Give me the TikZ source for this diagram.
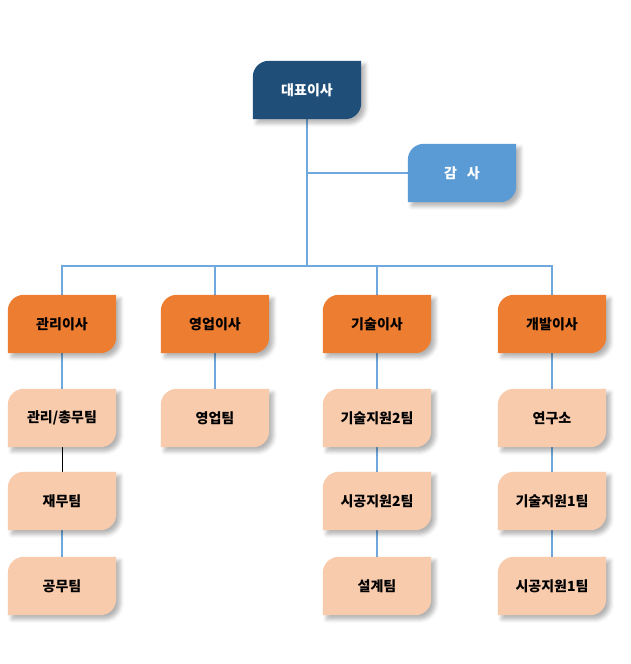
\documentclass[tikz,border=0pt]{standalone}
\usepackage{fontspec}
\setmainfont{Noto Sans CJK KR}
\usetikzlibrary{backgrounds,shadows.blur}

\definecolor{ceoblue}{HTML}{1F4E79}
\definecolor{auditblue}{HTML}{5B9BD5}
\definecolor{director}{HTML}{ED7D31}
\definecolor{team}{HTML}{F8CBAD}
\definecolor{lineblue}{HTML}{6FA8DC}

\begin{document}
\begin{tikzpicture}[x=1pt, y=1pt, node distance={85pt},
    main/.style = {minimum width=108pt, minimum height=58pt, inner sep=0pt, font=\fontsize{14}{16}\selectfont\bfseries},
    head/.style = {main, text=white},
    link/.style = {draw=lineblue, line width=1.2pt},
    tab/.style = {blur shadow={shadow xshift=4pt, shadow yshift=-4pt, shadow blur radius=4pt, shadow opacity=30}}]
    \useasboundingbox (0,0) rectangle (631,-664);

    \node[head] (1) at (307,-90) {대표이사};
    \node[head] (2) at (462,-173) {감\hspace{0.7em}사};
    \node[main] (3) at (62,-324) {관리이사};
    \node[main] (4) at (215,-324) {영업이사};
    \node[main] (5) at (377,-324) {기술이사};
    \node[main] (6) at (552,-324) {개발이사};
    \node[main] (7) [below of=3, yshift=-9pt] {관리/총무팀};
    \node[main] (8) [below of=7, yshift=2pt] {재무팀};
    \node[main] (9) [below of=8] {공무팀};
    \node[main] (10) [below of=4, yshift=-9pt] {영업팀};
    \node[main] (11) [below of=5, yshift=-9pt] {기술지원2팀};
    \node[main] (12) [below of=11, yshift=2pt] {시공지원2팀};
    \node[main] (13) [below of=12] {설계팀};
    \node[main] (14) [below of=6, yshift=-9pt] {연구소};
    \node[main] (15) [below of=14, yshift=2pt] {기술지원1팀};
    \node[main] (16) [below of=15] {시공지원1팀};
    \coordinate (b) at (307,-266);

    \begin{scope}[on background layer]
    \draw[link] (1) -- (b);
    \draw[link] (1 |- 2) -- (2);
    \draw[link] (3) |- (b);
    \draw[link] (6) |- (b);
    \draw[link] (4) -- (4 |- b);
    \draw[link] (5) -- (5 |- b);
    \draw[link] (3) -- (7);
    \draw[black, line width=1pt] (7) -- (8);
    \draw[link] (8) -- (9);
    \draw[link] (4) -- (10);
    \draw[link] (5) -- (11);
    \draw[link] (11) -- (12);
    \draw[link] (12) -- (13);
    \draw[link] (6) -- (14);
    \draw[link] (14) -- (15);
    \draw[link] (15) -- (16);

    \foreach \n/\c in {1/ceoblue, 2/auditblue, 3/director, 4/director, 5/director, 6/director,
        7/team, 8/team, 9/team, 10/team, 11/team, 12/team, 13/team, 14/team, 15/team, 16/team}
      \fill[\c, tab] (\n.south west) -- ([yshift=-16pt]\n.north west)
        arc[start angle=180, end angle=90, radius=16pt] -- (\n.north east)
        -- ([yshift=16pt]\n.south east) arc[start angle=0, end angle=-90, radius=16pt] -- cycle;
    \end{scope}

    \end{tikzpicture}
\end{document}
